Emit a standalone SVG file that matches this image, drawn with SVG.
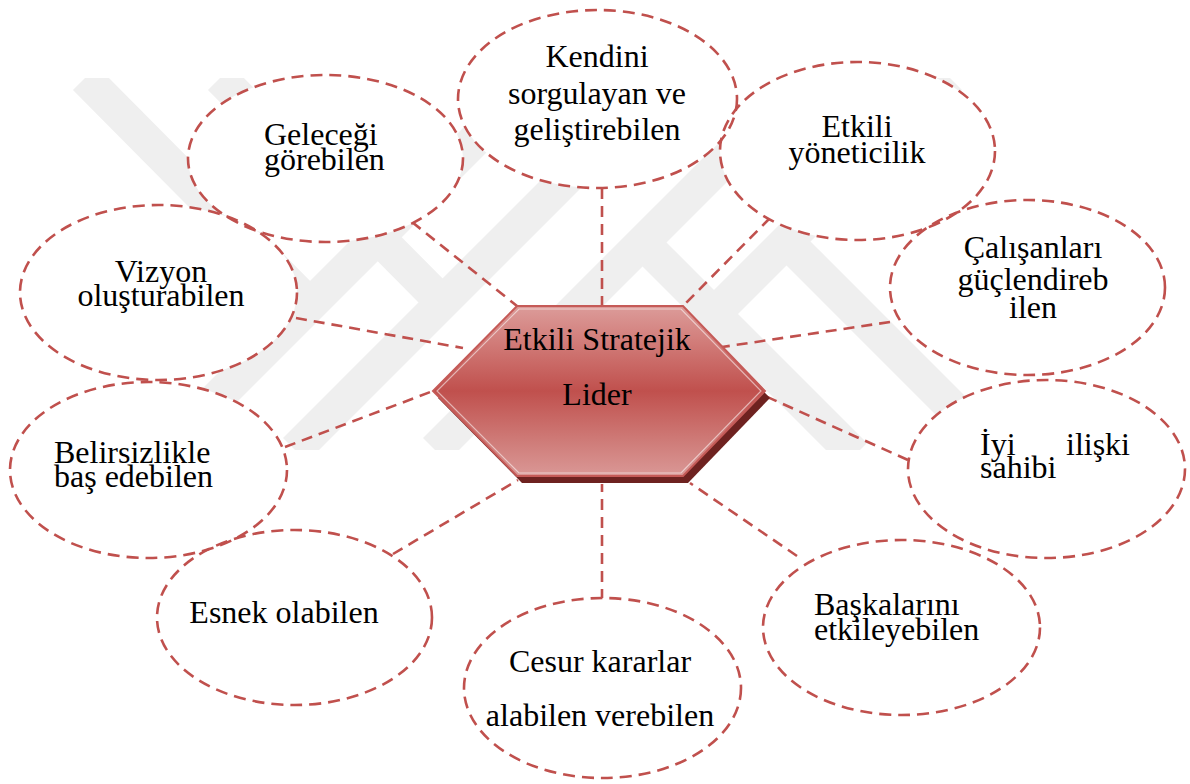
<svg xmlns="http://www.w3.org/2000/svg" width="1190" height="784" viewBox="0 0 1190 784">
  <style>
    .wm { fill: none; stroke: #efefef; stroke-width: 34; stroke-linecap: butt; }
    .link { fill: none; stroke: #c0504d; stroke-width: 2.6; stroke-dasharray: 11 7; }
    .pad { fill: #ffffff; }
    .ring { fill: none; stroke: #c0504d; stroke-width: 2.6; stroke-dasharray: 12 7; }
    text { font-family: "Liberation Serif", "Times New Roman", serif; font-size: 32px; fill: #000000; }
    .c { text-anchor: middle; }
  </style>
  <defs>
    <linearGradient id="hexFill" x1="0" y1="0" x2="0" y2="1">
      <stop offset="0" stop-color="#dc9c9a"/>
      <stop offset="0.2" stop-color="#d27e7b"/>
      <stop offset="0.5" stop-color="#c0504d"/>
      <stop offset="0.8" stop-color="#cf7c79"/>
      <stop offset="1" stop-color="#da9896"/>
    </linearGradient>
    <clipPath id="wmClip">
      <rect x="0" y="78" width="1190" height="372"/>
    </clipPath>
  </defs>

  <!-- faint striped emblem in the background -->
  <g id="emblem" clip-path="url(#wmClip)">
    <line class="wm" x1="85" y1="78" x2="310" y2="305"/>
    <line class="wm" x1="220" y1="78" x2="442" y2="302"/>
    <line class="wm" x1="165" y1="450" x2="537" y2="78"/>
    <line class="wm" x1="295" y1="450" x2="667" y2="78"/>
    <line class="wm" x1="435" y1="450" x2="807" y2="78"/>
    <line class="wm" x1="578" y1="450" x2="950" y2="78"/>
    <line class="wm" x1="642" y1="242" x2="855" y2="455"/>
    <line class="wm" x1="787" y1="242" x2="1000" y2="455"/>
  </g>

  <!-- dashed spokes from the centre to each trait -->
  <g id="connectors">
    <line class="link" x1="602" y1="188" x2="602" y2="306"/>
    <line class="link" x1="412" y1="222" x2="517" y2="306"/>
    <line class="link" x1="770" y1="218" x2="683" y2="306"/>
    <line class="link" x1="296" y1="318" x2="463" y2="348"/>
    <line class="link" x1="890" y1="322" x2="722" y2="347"/>
    <line class="link" x1="285" y1="447" x2="433" y2="391"/>
    <line class="link" x1="908" y1="460" x2="765" y2="396"/>
    <line class="link" x1="393" y1="554" x2="518" y2="480"/>
    <line class="link" x1="797" y1="556" x2="690" y2="483"/>
    <line class="link" x1="602" y1="600" x2="602" y2="484"/>
  </g>

  <!-- white bodies of the trait ovals -->
  <g id="oval-fills">
    <ellipse class="pad" cx="597.5" cy="99" rx="139.5" ry="89"/>
    <ellipse class="pad" cx="325.5" cy="158.5" rx="137.5" ry="83.5"/>
    <ellipse class="pad" cx="857.5" cy="151" rx="137.5" ry="89"/>
    <ellipse class="pad" cx="158.5" cy="292.5" rx="138.5" ry="87.5"/>
    <ellipse class="pad" cx="1027.5" cy="287.5" rx="137.5" ry="87.5"/>
    <ellipse class="pad" cx="148.5" cy="470" rx="138.5" ry="88"/>
    <ellipse class="pad" cx="1046.5" cy="469" rx="138.5" ry="89"/>
    <ellipse class="pad" cx="294.5" cy="617.5" rx="137.5" ry="87.5"/>
    <ellipse class="pad" cx="901.5" cy="627.5" rx="138.5" ry="87.5"/>
    <ellipse class="pad" cx="602.5" cy="688" rx="138.5" ry="90"/>
  </g>

  <g id="node-kendini">
    <ellipse class="ring" cx="597.5" cy="99" rx="139.5" ry="89"/>
    <text class="c" x="597" y="67">Kendini</text>
    <text class="c" x="597" y="104">sorgulayan ve</text>
    <text class="c" x="597" y="140">geliştirebilen</text>
  </g>

  <g id="node-gelecek">
    <ellipse class="ring" cx="325.5" cy="158.5" rx="137.5" ry="83.5"/>
    <text x="264" y="145">Geleceği</text>
    <text x="264" y="170">görebilen</text>
  </g>

  <g id="node-yonetici">
    <ellipse class="ring" cx="857.5" cy="151" rx="137.5" ry="89"/>
    <text class="c" x="857" y="137">Etkili</text>
    <text class="c" x="857" y="163">yöneticilik</text>
  </g>

  <g id="node-vizyon">
    <ellipse class="ring" cx="158.5" cy="292.5" rx="138.5" ry="87.5"/>
    <text class="c" x="161" y="282">Vizyon</text>
    <text class="c" x="161" y="306">oluşturabilen</text>
  </g>

  <g id="node-calisan">
    <ellipse class="ring" cx="1027.5" cy="287.5" rx="137.5" ry="87.5"/>
    <text class="c" x="1033" y="258">Çalışanları</text>
    <text class="c" x="1033" y="290">güçlendireb</text>
    <text class="c" x="1033" y="318">ilen</text>
  </g>

  <g id="node-belirsiz">
    <ellipse class="ring" cx="148.5" cy="470" rx="138.5" ry="88"/>
    <text x="54" y="463">Belirsizlikle</text>
    <text x="54" y="487">baş edebilen</text>
  </g>

  <g id="node-iliski">
    <ellipse class="ring" cx="1046.5" cy="469" rx="138.5" ry="89"/>
    <text x="980" y="455">İyi</text>
    <text x="1130" y="455" text-anchor="end">ilişki</text>
    <text x="980" y="478">sahibi</text>
  </g>

  <g id="node-esnek">
    <ellipse class="ring" cx="294.5" cy="617.5" rx="137.5" ry="87.5"/>
    <text class="c" x="284" y="623">Esnek olabilen</text>
  </g>

  <g id="node-baskalari">
    <ellipse class="ring" cx="901.5" cy="627.5" rx="138.5" ry="87.5"/>
    <text x="814" y="615">Başkalarını</text>
    <text x="814" y="640">etkileyebilen</text>
  </g>

  <g id="node-cesur">
    <ellipse class="ring" cx="602.5" cy="688" rx="138.5" ry="90"/>
    <text class="c" x="600" y="672">Cesur kararlar</text>
    <text class="c" x="600" y="726">alabilen verebilen</text>
  </g>

  <!-- central hexagon -->
  <g id="node-lider">
    <polygon points="522,313 688,313 770,398 688,483 522,483 438,398" fill="#6e2220"/>
    <polygon points="517,306 683,306 765,391 683,476 517,476 433,391" fill="url(#hexFill)" stroke="#c55a57" stroke-width="2"/>
    <polygon points="519,309 681,309 761,391 681,473 519,473 437,391" fill="none" stroke="#ffffff" stroke-opacity="0.55" stroke-width="1.2"/>
    <text class="c" x="597" y="350">Etkili Stratejik</text>
    <text class="c" x="597" y="405">Lider</text>
  </g>
</svg>
